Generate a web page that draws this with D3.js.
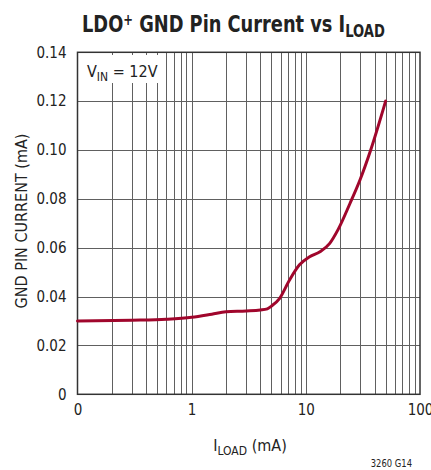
<!DOCTYPE html>
<html>
<head>
<meta charset="utf-8">
<script src="https://cdn.jsdelivr.net/npm/d3@7"></script>
<style>
  html, body { margin: 0; padding: 0; background: #fff; }
  svg { display: block; }
  text { font-family: "DejaVu Sans Condensed", "Liberation Sans Narrow", sans-serif; fill: #222; }
</style>
</head>
<body>
<svg id="chart" width="431" height="470"></svg>
<script>
// ---- data ----
const loadCurrent = [0.1, 0.3, 0.6, 1, 1.5, 2, 3, 4, 4.6, 5, 5.9, 7.2, 8.8, 10.8, 13.3, 16.2, 19.2, 24.3, 29.8, 37, 50];
const gndCurrent  = [0.0300, 0.0303, 0.0307, 0.0315, 0.0328, 0.0338, 0.0341, 0.0345, 0.0350, 0.0361, 0.0393, 0.0468, 0.0530, 0.0563, 0.0584, 0.0618, 0.0675, 0.0780, 0.0877, 0.1000, 0.1200];
const xTickValues = [0.1, 1, 10, 100];
const xTickLabels = ["0", "1", "10", "100"];
const yTickValues = [0, 0.02, 0.04, 0.06, 0.08, 0.10, 0.12, 0.14];
const yTickLabels = ["0", "0.02", "0.04", "0.06", "0.08", "0.10", "0.12", "0.14"];

const svg = d3.select("#chart");
const m = { left: 77.5, right: 420, top: 52.3, bottom: 394.3 };

const x = d3.scaleLog().domain([0.1, 100]).range([m.left, m.right]);
const y = d3.scaleLinear().domain([0, 0.14]).range([m.bottom, m.top]);
const crisp = v => Math.round(v) + 0.5;

// minor vertical grid
const minor = [];
for (let d = 0.1; d < 100; d *= 10) for (let k = 2; k <= 9; k++) minor.push(d * k);
const gridG = svg.append("g");
gridG.selectAll("line.v").data(minor.concat([1, 10])).enter().append("line")
  .attr("x1", d => crisp(x(d))).attr("x2", d => crisp(x(d)))
  .attr("y1", m.top).attr("y2", m.bottom)
  .attr("stroke", "#606060").attr("stroke-width", 1);
gridG.selectAll("line.h").data(yTickValues.slice(1, -1)).enter().append("line")
  .attr("x1", m.left).attr("x2", m.right)
  .attr("y1", d => crisp(y(d))).attr("y2", d => crisp(y(d)))
  .attr("stroke", "#606060").attr("stroke-width", 1);

// label box
svg.append("rect").attr("x", 84).attr("y", 55).attr("width", 76).attr("height", 28).attr("fill", "#fff");
const vin = svg.append("text").attr("x", 87).attr("y", 77).attr("font-size", 16);
vin.append("tspan").text("V");
vin.append("tspan").attr("font-size", 12).attr("dy", 4).text("IN");
vin.append("tspan").attr("dy", -4).text(" = 12V");

// frame
svg.append("rect").attr("x", m.left).attr("y", m.top)
  .attr("width", m.right - m.left).attr("height", m.bottom - m.top)
  .attr("fill", "none").attr("stroke", "#333").attr("stroke-width", 1.5);

// curve
const line = d3.line().x((d, i) => x(loadCurrent[i])).y(d => y(d)).curve(d3.curveMonotoneX);
svg.append("path").datum(gndCurrent).attr("d", line)
  .attr("fill", "none").attr("stroke", "#a0062c").attr("stroke-width", 3)
  .attr("stroke-linecap", "round").attr("stroke-linejoin", "round");

// axes (labels only, via d3 axes)
const ff = '"DejaVu Sans Condensed", "Liberation Sans Narrow", sans-serif';
const xAxis = d3.axisBottom(x).tickValues(xTickValues).tickSize(0).tickPadding(10)
  .tickFormat((d, i) => xTickLabels[i]);
const xg = svg.append("g").attr("transform", `translate(0,${m.bottom})`).call(xAxis);
xg.select(".domain").remove();
xg.selectAll("text").attr("font-size", 15).attr("fill", "#222").style("font-family", ff);

const yAxis = d3.axisLeft(y).tickValues(yTickValues).tickSize(0).tickPadding(11)
  .tickFormat((d, i) => yTickLabels[i]);
const yg = svg.append("g").attr("transform", `translate(${m.left},0)`).call(yAxis);
yg.select(".domain").remove();
yg.selectAll("text").attr("font-size", 15).attr("fill", "#222").style("font-family", ff);

// title (horizontally condensed)
const title = svg.append("text").attr("transform", "translate(233.5,32) scale(0.86,1)")
  .attr("text-anchor", "middle").attr("font-size", 23).attr("font-weight", "bold");
title.append("tspan").text("LDO");
title.append("tspan").attr("font-size", 15).attr("dy", -7).text("+");
title.append("tspan").attr("dy", 7).text(" GND Pin Current vs I");
title.append("tspan").attr("font-size", 17).attr("dy", 5).text("LOAD");

// axis titles
const xt = svg.append("text").attr("x", 250).attr("y", 451).attr("text-anchor", "middle").attr("font-size", 16);
xt.append("tspan").text("I");
xt.append("tspan").attr("font-size", 12).attr("dy", 4).text("LOAD");
xt.append("tspan").attr("dy", -4).text(" (mA)");

svg.append("text").attr("transform", "translate(27,221) rotate(-90)")
  .attr("text-anchor", "middle").attr("font-size", 16).text("GND PIN CURRENT (mA)");

svg.append("text").attr("transform", "translate(412,467) scale(0.85,1)").attr("text-anchor", "end")
  .attr("font-size", 11).text("3260 G14");
</script>
</body>
</html>
